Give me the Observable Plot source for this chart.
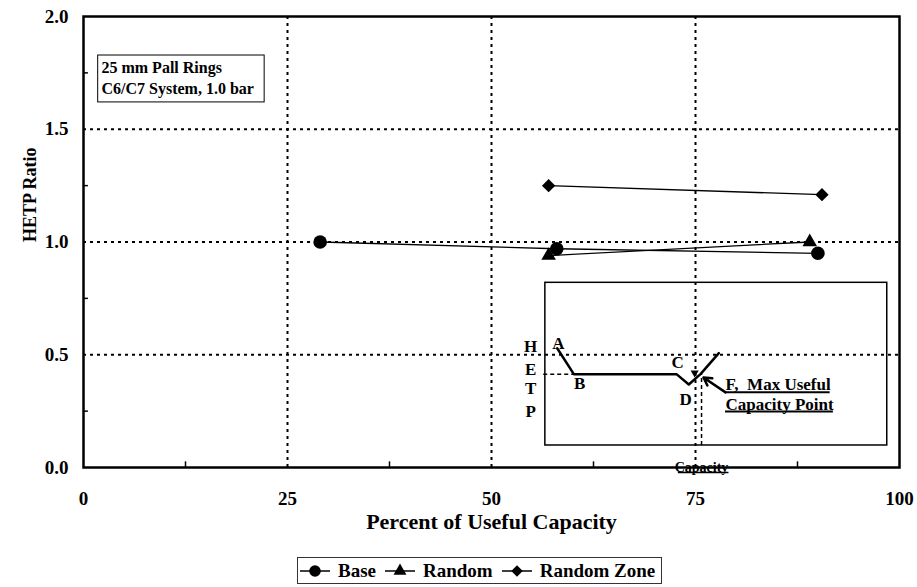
<!DOCTYPE html>
<html>
<head>
<meta charset="utf-8">
<script src="https://cdn.jsdelivr.net/npm/d3@7"></script>
<script src="https://cdn.jsdelivr.net/npm/@observablehq/plot@0.6"></script>
<style>
  html, body { margin: 0; padding: 0; background: white; }
  #wrap { width: 917px; height: 587px; position: relative; font-family: "Liberation Serif", "Times New Roman", serif; }
  #legend { position: absolute; left: 297px; top: 557px; height: 25px; border: 1px solid #333; display: flex; align-items: center; padding: 0 6px 0 2px; font-weight: bold; font-size: 19px; background: white; }
  #legend .item { display: flex; align-items: center; margin-right: 9px; }
  #legend .item:last-child { margin-right: 0; }
  #legend svg { display: block; margin-right: 8px; }
</style>
</head>
<body>
<div id="wrap"><div id="chart"></div><div id="legend"></div></div>
<script>
// ---- data ----
const xTicks = [0, 25, 50, 75, 100];
const yTicks = [0, 0.5, 1.0, 1.5, 2.0];
const xGrid = [25, 50, 75];
const yGrid = [0.5, 1.0, 1.5];
const xMinor = [12.5, 37.5, 62.5, 87.5];
const yMinor = [0.25, 0.75, 1.25, 1.75];

const seriesNames = ["Base", "Random", "Random Zone"];
const baseX = [29, 58, 90];
const baseY = [1.00, 0.97, 0.95];
const randomX = [57, 89];
const randomY = [0.94, 1.00];
const zoneX = [57, 90.5];
const zoneY = [1.25, 1.21];

const noteLines = ["25 mm Pall Rings", "C6/C7 System, 1.0 bar"];
const noteLineY = [1.774, 1.681];

// inset schematic (HETP vs capacity sketch), in chart units
const sketchX = [58.05, 60.09, 72.67, 74.18, 75.61, 77.86];
const sketchY = [0.529, 0.414, 0.414, 0.368, 0.414, 0.507];
const sketchLetters = ["A", "B", "C", "D"];
const sketchLetterX = [58.2, 60.8, 72.8, 73.8];
const sketchLetterY = [0.55, 0.372, 0.466, 0.302];
const hetpLetters = ["H", "E", "T", "P"];
const hetpY = [0.537, 0.435, 0.350, 0.248];
const fLabel = ["F,  Max Useful", "Capacity Point"];
const fLabelY = [0.367, 0.278];
const fUnderlineY = [0.334, 0.248];
const fUnderlineX2 = [91.5, 91.9];

// ---- build ----
const zip = (xs, ys) => xs.map((x, i) => ({x, y: ys[i]}));
const base = zip(baseX, baseY);
const random = zip(randomX, randomY);
const zone = zip(zoneX, zoneY);
const sketch = zip(sketchX, sketchY);
const letters = sketchLetters.map((t, i) => ({t, x: sketchLetterX[i], y: sketchLetterY[i]}));
const hetp = hetpLetters.map((t, i) => ({t, x: 54.8, y: hetpY[i]}));
const fl = fLabel.map((t, i) => ({t, x: 78.68, y: fLabelY[i]}));
const ful = fUnderlineY.map((y, i) => ({y, x1: 78.68, x2: fUnderlineX2[i]}));
const notes = noteLines.map((t, i) => ({t, x: 2.2, y: noteLineY[i]}));

const grid = {stroke: "black", strokeWidth: 2, strokeDasharray: "3,4"};
const chart = Plot.plot({
  width: 917,
  height: 551,
  marginLeft: 83,
  marginRight: 18,
  marginTop: 16,
  marginBottom: 84,
  x: {domain: [0, 100]},
  y: {domain: [0, 2]},
  style: {fontFamily: "'Liberation Serif', 'Times New Roman', serif", fontWeight: "bold", fontSize: "19px", background: "white", color: "black"},
  marks: [
    Plot.ruleX(xGrid, grid),
    Plot.ruleY(yGrid, grid),
    Plot.ruleX(xMinor, {y1: 0, y2: 0.025, stroke: "black", strokeWidth: 1.5}),
    Plot.ruleY(yMinor, {x1: 0, x2: 0.6, stroke: "black", strokeWidth: 1.5}),
    Plot.axisX(xTicks, {tickSize: 0, tickPadding: 24, label: null, fontSize: 19}),
    Plot.axisY(yTicks, {tickSize: 0, tickPadding: 15, label: null, fontSize: 19, tickFormat: d => d.toFixed(1)}),
    // note box
    Plot.rect([{x1: 1.8, x2: 22.2, y1: 1.619, y2: 1.827}], {x1: "x1", x2: "x2", y1: "y1", y2: "y2", fill: "none", stroke: "black", strokeWidth: 1}),
    Plot.text(notes, {x: "x", y: "y", text: "t", textAnchor: "start", fontSize: 16}),
    // inset schematic
    Plot.rect([{x1: 56.6, x2: 98.5, y1: 0.0976, y2: 0.819}], {x1: "x1", x2: "x2", y1: "y1", y2: "y2", fill: "none", stroke: "black", strokeWidth: 1.5}),
    Plot.line(sketch, {x: "x", y: "y", stroke: "black", strokeWidth: 2.5}),
    Plot.ruleY([0.414], {x1: 56.4, x2: 60.05, stroke: "black", strokeWidth: 1.5, strokeDasharray: "4,3"}),
    Plot.ruleX([75.74], {y1: 0.0976, y2: 0.414, stroke: "black", strokeWidth: 1.5, strokeDasharray: "4,3"}),
    Plot.dot([{x: 74.9, y: 0.42}], {x: "x", y: "y", symbol: "triangle", r: 3, rotate: 180, fill: "black"}),
    Plot.arrow([{x1: 78.68, y1: 0.333, x2: 75.98, y2: 0.399}], {x1: "x1", y1: "y1", x2: "x2", y2: "y2", stroke: "black", strokeWidth: 2.5, headLength: 10}),
    Plot.text(letters, {x: "x", y: "y", text: "t", fontSize: 17}),
    Plot.text(hetp, {x: "x", y: "y", text: "t", fontSize: 17}),
    Plot.text(fl, {x: "x", y: "y", text: "t", textAnchor: "start", fontSize: 17}),
    Plot.ruleY(ful, {y: "y", x1: "x1", x2: "x2", stroke: "black", strokeWidth: 2}),
    Plot.text(["Capacity"], {x: 75.74, y: 0, text: d => d, fontSize: 14}),
    Plot.ruleY([-0.022], {x1: 72.9, x2: 79.1, stroke: "black", strokeWidth: 1.5}),
    // series
    Plot.line(base, {x: "x", y: "y", stroke: "black", strokeWidth: 1.3}),
    Plot.line(random, {x: "x", y: "y", stroke: "black", strokeWidth: 1.3}),
    Plot.line(zone, {x: "x", y: "y", stroke: "black", strokeWidth: 1.3}),
    Plot.dot(base, {x: "x", y: "y", symbol: "circle", r: 6.8, fill: "black"}),
    Plot.dot(random, {x: "x", y: "y", symbol: "triangle", r: 5.4, fill: "black"}),
    Plot.dot(zone, {x: "x", y: "y", symbol: "diamond2", r: 6, fill: "black"}),
    Plot.frame({stroke: "black", strokeWidth: 2.5}),
    // axis titles
    Plot.text(["Percent of Useful Capacity"], {frameAnchor: "bottom", dy: 61, text: d => d, fontSize: 22}),
    Plot.text(["HETP Ratio"], {frameAnchor: "left", dx: -53, rotate: -90, text: d => d, fontSize: 18})
  ]
});
document.getElementById("chart").appendChild(chart);

// legend
const symbolTypes = {circle: d3.symbolCircle, triangle: d3.symbolTriangle, diamond2: d3.symbolDiamond2};
const symbols = ["circle", "triangle", "diamond2"];
const sizes = [5.8, 4.8, 5.2];
const lg = d3.select("#legend");
seriesNames.forEach((name, i) => {
  const item = lg.append("div").attr("class", "item");
  const s = item.append("svg").attr("width", 30).attr("height", 18);
  s.append("line").attr("x1", 0).attr("x2", 30).attr("y1", 9).attr("y2", 9).attr("stroke", "black").attr("stroke-width", 1.5);
  s.append("path").attr("transform", "translate(15,9)")
    .attr("d", d3.symbol(symbolTypes[symbols[i]], Math.PI * sizes[i] ** 2)())
    .attr("fill", "black");
  item.append("span").text(name);
});
</script>
</body>
</html>
